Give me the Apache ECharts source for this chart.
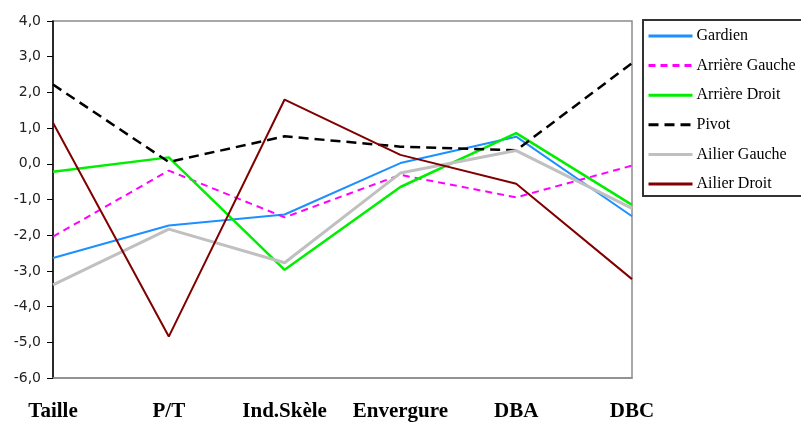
<!DOCTYPE html>
<html><head><meta charset="utf-8">
<script src="https://cdn.jsdelivr.net/npm/echarts@6/dist/echarts.min.js"></script>
<style>html,body{margin:0;padding:0;background:#fff}#c{width:801px;height:425px}</style>
</head><body><div id="c"></div>
<script>
const categories = ['Taille','P/T','Ind.Skèle','Envergure','DBA','DBC'];
const gardien = [-2.64, -1.73, -1.42, 0.02, 0.76, -1.47];
const arriereGauche = [-2.04, -0.19, -1.5, -0.31, -0.94, -0.05];
const arriereDroit = [-0.22, 0.18, -2.97, -0.65, 0.86, -1.15];
const pivot = [2.22, 0.05, 0.77, 0.48, 0.38, 2.82];
const ailierGauche = [-3.39, -1.83, -2.77, -0.26, 0.37, -1.25];
const ailierDroit = [1.15, -4.84, 1.8, 0.25, -0.56, -3.23];
const yTicks = {min:-6, max:4, interval:1};

const chart = echarts.init(document.getElementById('c'));
function s(name, data, color, width, type){
  return {name, type:'line', data, symbol:'none', lineStyle:{color, width, type}, itemStyle:{color}};
}
chart.setOption({
  animation:false,
  grid:{left:53, right:169, top:21, bottom:47, show:true, borderColor:'#8c8c8c', borderWidth:1.5},
  legend:{
    orient:'vertical', left:643, top:20, itemWidth:44, itemHeight:14, itemGap:13.6,
    padding:[8,40,4,4], borderColor:'#333', borderWidth:2, backgroundColor:'#fff',
    itemStyle:{opacity:0}, lineStyle:{width:3},
    textStyle:{fontFamily:'Liberation Serif', fontSize:16, color:'#000', padding:[0,0,0,-1]},
    data:['Gardien','Arrière Gauche','Arrière Droit','Pivot','Ailier Gauche','Ailier Droit']
  },
  xAxis:{type:'category', data:categories, boundaryGap:false,
    axisLine:{show:true, onZero:false, lineStyle:{color:'#8c8c8c', width:1.5}}, axisTick:{show:false},
    axisLabel:{interval:0, fontFamily:'Liberation Serif', fontWeight:'bold', fontSize:21, color:'#000', margin:23}},
  yAxis:{type:'value', min:yTicks.min, max:yTicks.max, interval:yTicks.interval,
    splitLine:{show:false},
    axisLine:{show:true, lineStyle:{color:'#000', width:1.5}},
    axisTick:{show:true, length:6, lineStyle:{color:'#000'}},
    axisLabel:{fontFamily:'DejaVu Sans', fontSize:14, color:'#222', margin:12,
      formatter:v=>v.toFixed(1).replace('.',',')}},
  series:[
    s('Gardien', gardien, '#1e8fff', 2, 'solid'),
    s('Arrière Gauche', arriereGauche, '#ff00ff', 2, [7,5]),
    s('Arrière Droit', arriereDroit, '#00ee00', 2.5, 'solid'),
    s('Pivot', pivot, '#000000', 2.5, [10,6]),
    s('Ailier Gauche', ailierGauche, '#c0c0c0', 3, 'solid'),
    s('Ailier Droit', ailierDroit, '#800000', 2, 'solid')
  ]
});
</script></body></html>
